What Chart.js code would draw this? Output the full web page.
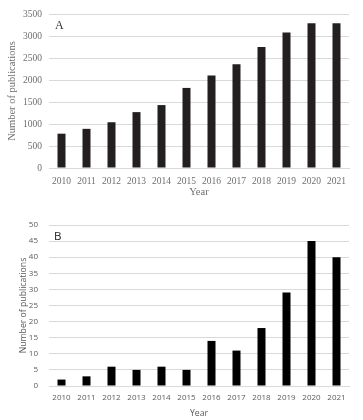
<!DOCTYPE html>
<html><head><meta charset="utf-8">
<script src="https://cdn.jsdelivr.net/npm/chart.js@4/dist/chart.umd.min.js"></script>
<style>
html,body{margin:0;padding:0;background:#fff;}
.box{position:absolute;left:0;width:363px;}
#wa{top:0;height:200px;}
#wb{top:200px;height:220px;}
.lbl{position:absolute;line-height:1;}
</style></head><body>
<div class="box" id="wa"><canvas id="ca" width="363" height="200"></canvas>
<div class="lbl" style="left:55px;top:18px;font:12px 'Liberation Serif',serif;color:#333;">A</div></div>
<div class="box" id="wb"><canvas id="cb" width="363" height="220"></canvas>
<div class="lbl" style="left:54px;top:28px;font:11.5px 'Open Sans',sans-serif;color:#222;">B</div></div>
<script>
const years = ['2010','2011','2012','2013','2014','2015','2016','2017','2018','2019','2020','2021'];
const pubsA = [780, 890, 1040, 1270, 1430, 1820, 2100, 2360, 2750, 3080, 3290, 3290];
const pubsB = [2, 3, 6, 5, 6, 5, 14, 11, 18, 29, 45, 40];
const ticksA = {min:0, max:3500, step:500};
const ticksB = {min:0, max:50, step:5};

function make(id, data, t, cfg){
  return new Chart(document.getElementById(id), {
    type:'bar',
    data:{labels:years, datasets:[{data:data, backgroundColor:cfg.bar, borderWidth:0, barPercentage:0.32, categoryPercentage:1}]},
    options:{
      responsive:false, animation:false,
      layout:{padding:{top:cfg.top, right:14, left:0, bottom:0}},
      plugins:{legend:{display:false}, tooltip:{enabled:false}},
      scales:{
        x:{
          grid:{display:false, drawTicks:false},
          border:{display:true, color:'#d9d9d9', width:1},
          ticks:{color:cfg.text, font:{family:cfg.font, size:cfg.tick}, padding:cfg.xpad, maxRotation:0, autoSkip:false},
          title:{display:true, text:'Year', color:cfg.text, font:{family:cfg.font, size:cfg.title}, padding:{top:0,bottom:cfg.tb}},
          afterFit:(s)=>{s.height = cfg.xh;}
        },
        y:{
          min:t.min, max:t.max,
          grid:{color:'#d9d9d9', drawTicks:false, lineWidth:1},
          border:{display:false},
          ticks:{stepSize:t.step, color:cfg.text, font:{family:cfg.font, size:cfg.tick}, padding:cfg.ypad, callback:(v)=>String(v)},
          title:{display:true, text:'Number of publications', color:cfg.text, font:{family:cfg.font, size:cfg.title}, padding:{top:cfg.ytp,bottom:0}},
          afterFit:(s)=>{s.width = 49;}
        }
      }
    }
  });
}
make('ca', pubsA, ticksA, {bar:'#231f20', text:'#6e6e6e', font:"'Liberation Serif', serif", tick:9.5, title:10.5, top:14, xh:32, xpad:8, tb:1, ypad:7, ytp:6});
make('cb', pubsB, ticksB, {bar:'#000000', text:'#595959', font:"'Open Sans', sans-serif", tick:8, title:8.7, top:25, xh:34, xpad:7, tb:1, ypad:11, ytp:18});
</script>
</body></html>
